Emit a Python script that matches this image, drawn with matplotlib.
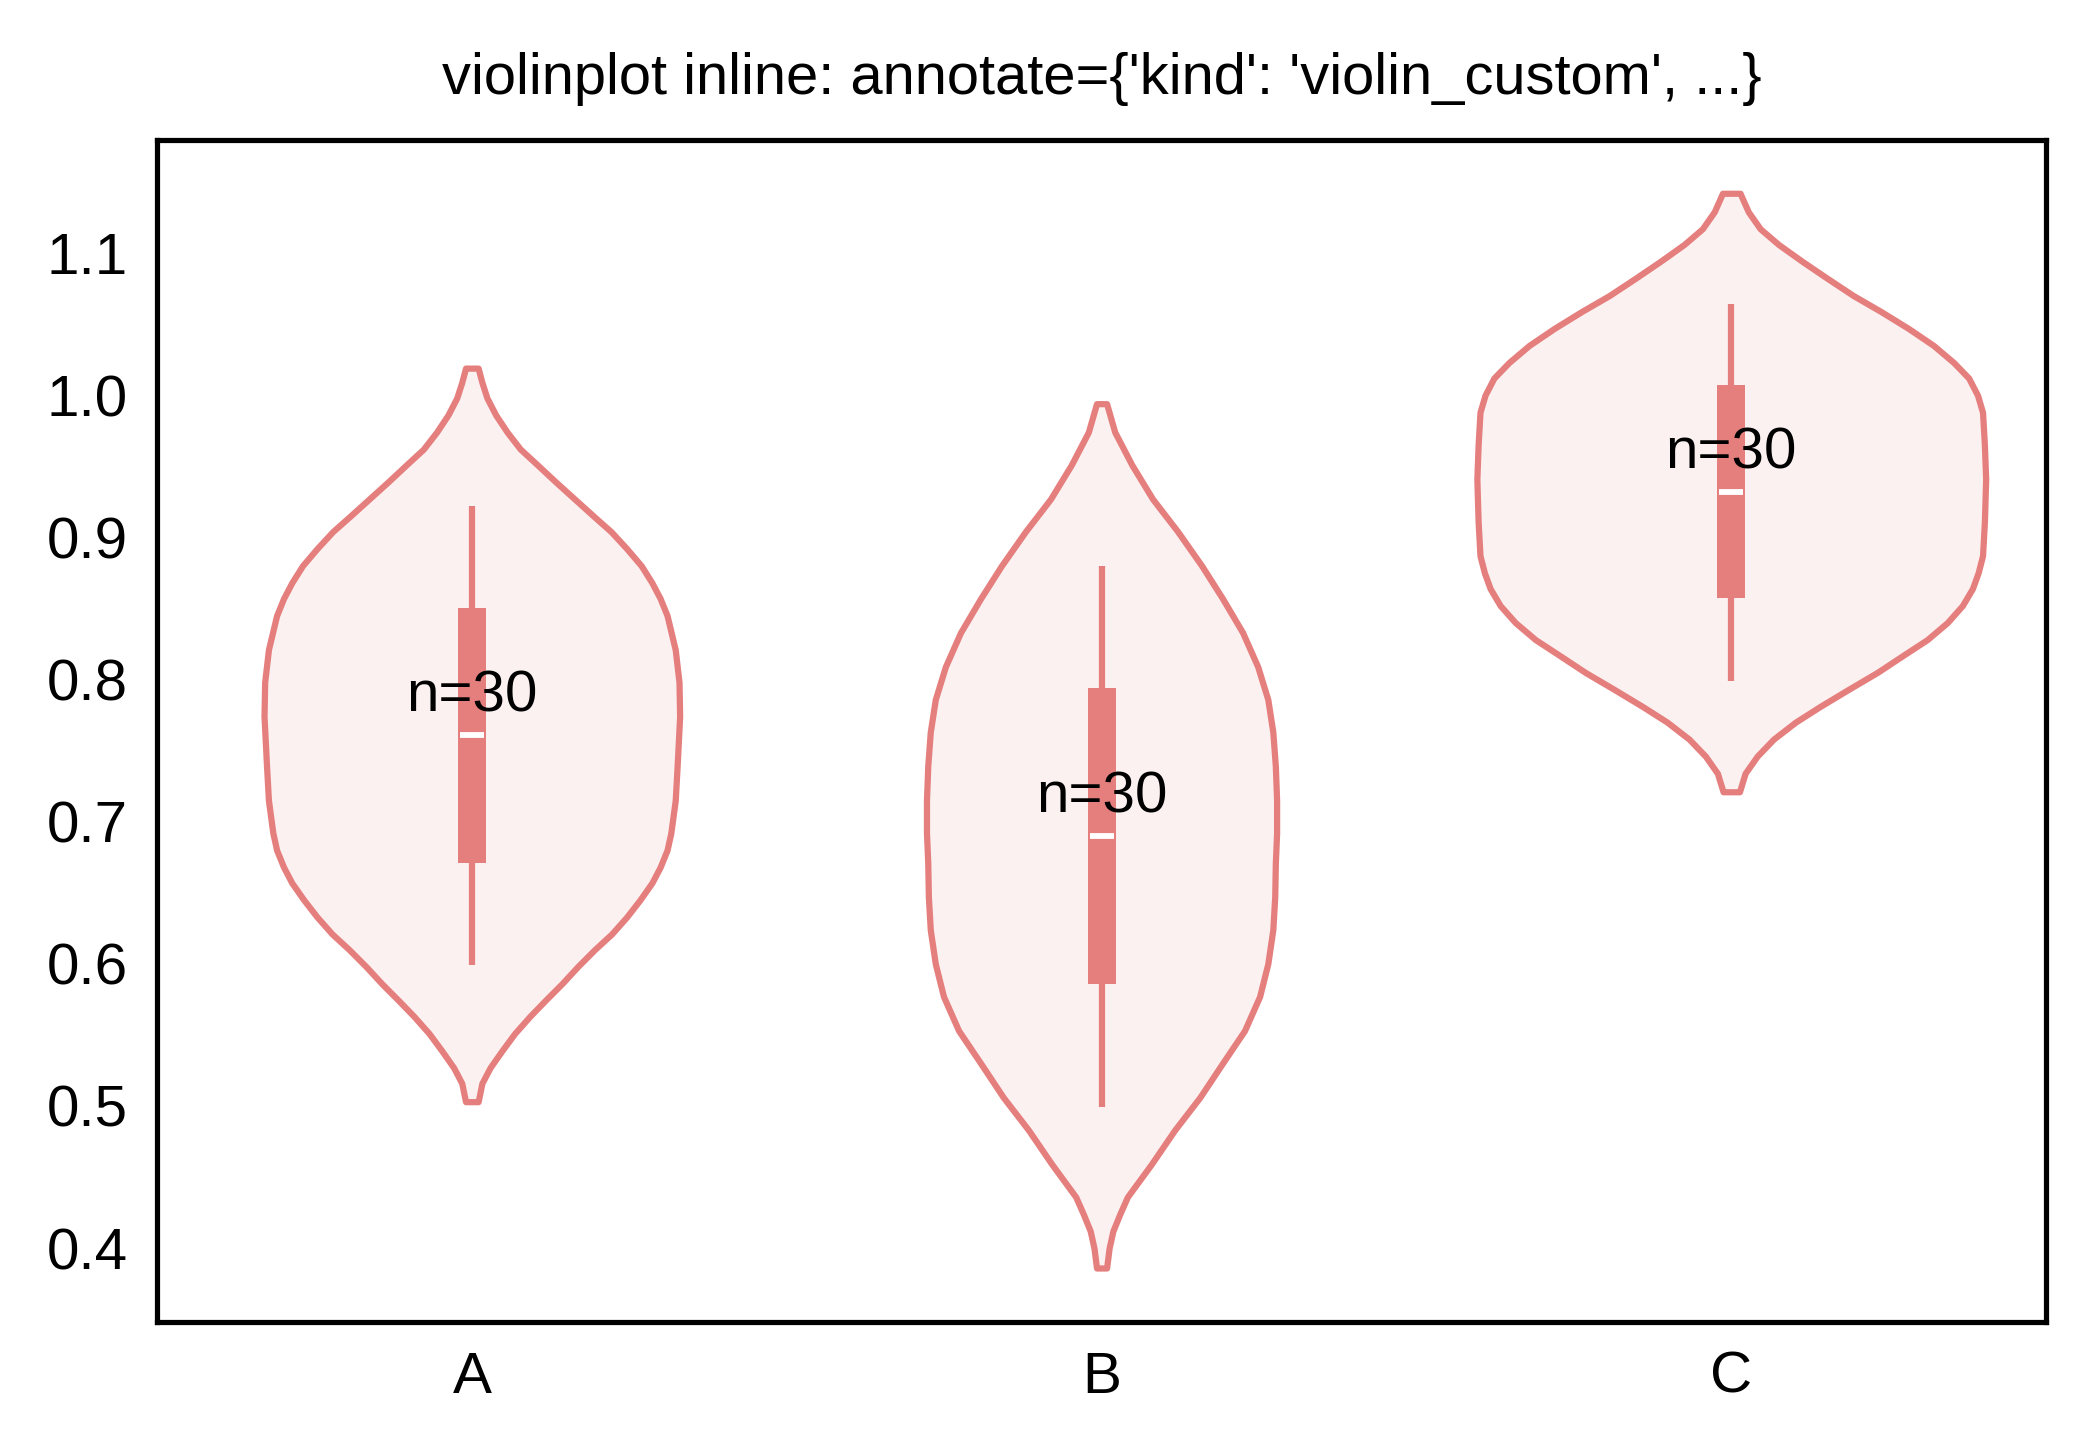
import numpy as np
import matplotlib
matplotlib.use("Agg")
import matplotlib.pyplot as plt
from matplotlib.colors import to_rgba

plt.rcParams['font.family'] = ['Liberation Sans', 'DejaVu Sans']
plt.rcParams['font.size'] = 14

# groups and counts
categories = ["A", "B", "C"]
counts = [30, 30, 30]

# violin outlines: y value and half width (in category units)
a_y = [1.019, 1.009, 0.998, 0.986, 0.974, 0.962, 0.951, 0.939, 0.927, 0.915,
       0.904, 0.892, 0.880, 0.868, 0.857, 0.845, 0.821, 0.798, 0.774, 0.739,
       0.715, 0.692, 0.680, 0.668, 0.657, 0.645, 0.633, 0.621, 0.610, 0.598,
       0.586, 0.574, 0.563, 0.551, 0.539, 0.527, 0.516, 0.503]
a_half = [0.010, 0.016, 0.024, 0.038, 0.056, 0.077, 0.104, 0.133, 0.163, 0.193,
          0.221, 0.246, 0.269, 0.286, 0.299, 0.310, 0.323, 0.329, 0.330, 0.326,
          0.323, 0.316, 0.310, 0.299, 0.286, 0.267, 0.246, 0.222, 0.195, 0.168,
          0.143, 0.116, 0.092, 0.068, 0.048, 0.029, 0.016, 0.010]

b_y = [0.994, 0.974, 0.951, 0.927, 0.904, 0.880, 0.857, 0.833, 0.809, 0.786,
       0.763, 0.739, 0.715, 0.692, 0.671, 0.647, 0.624, 0.600, 0.577, 0.553,
       0.530, 0.506, 0.483, 0.459, 0.436, 0.424, 0.412, 0.400, 0.386]
b_half = [0.008, 0.021, 0.048, 0.081, 0.121, 0.159, 0.192, 0.224, 0.248, 0.264,
          0.272, 0.276, 0.278, 0.278, 0.276, 0.275, 0.272, 0.264, 0.251, 0.227,
          0.192, 0.156, 0.116, 0.079, 0.041, 0.029, 0.018, 0.012, 0.008]

c_y = [1.142, 1.129, 1.117, 1.106, 1.094, 1.082, 1.070, 1.059, 1.047, 1.035,
       1.023, 1.012, 1.000, 0.988, 0.965, 0.941, 0.911, 0.887, 0.875, 0.864,
       0.852, 0.840, 0.828, 0.817, 0.805, 0.793, 0.781, 0.770, 0.758, 0.746,
       0.734, 0.721]
c_half = [0.014, 0.027, 0.046, 0.075, 0.113, 0.153, 0.194, 0.237, 0.281, 0.321,
          0.353, 0.377, 0.391, 0.399, 0.402, 0.404, 0.402, 0.399, 0.392, 0.383,
          0.367, 0.343, 0.311, 0.273, 0.232, 0.186, 0.141, 0.102, 0.067, 0.041,
          0.022, 0.013]

# box statistics
whisker_low = [0.599, 0.499, 0.799]
q1 = [0.671, 0.586, 0.857]
medians = [0.761, 0.690, 0.932]
q3 = [0.850, 0.794, 1.007]
whisker_high = [0.922, 0.880, 1.064]

color = "#E57F7E"

fig = plt.figure(figsize=(2093 / 300, 1455 / 300), dpi=300)
ax = fig.add_axes([0.0750, 0.0916, 0.9026, 0.8125])

positions = np.arange(len(categories))
profiles = [(a_y, a_half), (b_y, b_half), (c_y, c_half)]

# violin bodies through matplotlib's own violin drawer
for i, (ys, hw) in enumerate(profiles):
    ys = np.array(ys)
    hw = np.array(hw)
    stats = [dict(coords=ys, vals=hw, mean=medians[i], median=medians[i],
                  min=ys.min(), max=ys.max())]
    parts = ax.violin(stats, positions=[positions[i]], widths=[2 * hw.max()],
                      showmeans=False, showextrema=False, showmedians=False)
    for body in parts['bodies']:
        body.set_alpha(None)
        body.set_facecolor(to_rgba(color, 0.1))
        body.set_edgecolor(to_rgba(color, 1.0))
        body.set_linewidth(1.5)
        body.set_joinstyle("round")
        body.set_zorder(1)

# whiskers, boxes, medians
ax.vlines(positions, whisker_low, whisker_high, color=color, lw=1.5, zorder=2)
ax.bar(positions, np.array(q3) - np.array(q1), bottom=q1, width=0.0445,
       color=color, linewidth=0, zorder=3)
ax.hlines(medians, positions - 0.019, positions + 0.019, color="white",
          lw=1.4, zorder=4)

# n= labels
for i, n in enumerate(counts):
    ax.annotate(f"n={n}", (positions[i], medians[i]), xytext=(0, 5.6),
                textcoords="offset points", ha="center", va="baseline",
                fontsize=14, zorder=5)

ax.set_xlim(-0.5, 2.5)
ax.set_xticks(positions)
ax.set_xticklabels(categories)
yticks = [0.4, 0.5, 0.6, 0.7, 0.8, 0.9, 1.0, 1.1]
ax.set_yticks(yticks)
ax.set_yticklabels([f"{t:.1f}" for t in yticks])
ax.tick_params(length=0, pad=7, labelsize=14)
for s in ax.spines.values():
    s.set_linewidth(1.25)
    s.set_color("black")

ax.set_title("violinplot inline: annotate={'kind': 'violin_custom', ...}",
             fontsize=13.9, pad=11)

fig.savefig("out.png", dpi=300)
